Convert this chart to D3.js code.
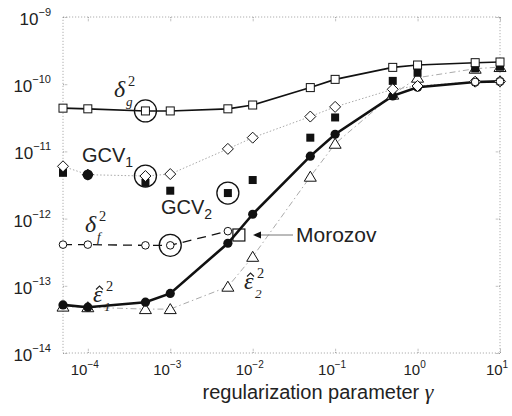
<!DOCTYPE html>
<html><head><meta charset="utf-8">
<script src="https://cdn.jsdelivr.net/npm/d3@7"></script>
<style>body{margin:0;background:#fff}svg{display:block}</style>
</head><body><svg id="c" width="512" height="416"></svg>
<script>
const gammas = [5e-5,1e-4,5e-4,1e-3,5e-3,1e-2,5e-2,1e-1,5e-1,1,5,10];
const deltaG = [4.4e-11,4.3e-11,4.0e-11,4.0e-11,4.3e-11,4.9e-11,8.9e-11,1.18e-10,1.78e-10,1.93e-10,2.09e-10,2.14e-10];
const eps1   = [5.2e-14,4.8e-14,5.7e-14,7.7e-14,4.3e-13,1.16e-12,8.5e-12,1.8e-11,6.7e-11,9.0e-11,1.08e-10,1.1e-10];
const deltaF = [4.1e-13,4.1e-13,4.0e-13,4.0e-13,6.5e-13,null,null,null,null,null,1.08e-10,1.1e-10];
const gcv1   = [6.0e-12,4.5e-12,4.3e-12,4.6e-12,1.09e-11,1.6e-11,3.3e-11,4.6e-11,8.4e-11,9.4e-11,1.09e-10,1.1e-10];
const gcv2   = [4.8e-12,null,3.4e-12,2.6e-12,2.4e-12,3.75e-12,1.6e-11,3.2e-11,1.12e-10,1.48e-10,1.72e-10,1.82e-10];
const eps2   = [4.9e-14,4.8e-14,4.5e-14,4.5e-14,9.7e-14,2.7e-13,4.2e-12,1.3e-11,7e-11,1.25e-10,1.7e-10,1.8e-10];
const gcv1Filled = [[1e-4,4.5e-12]];
const rings = [[5e-4,4.0e-11],[5e-4,4.3e-12],[5e-3,2.4e-12],[1e-3,4.0e-13]];
const morozov = [6.8e-3,5.7e-13];
const xTicks = [1e-4,1e-3,1e-2,1e-1,1,10];
const xTickExp = ["−4","−3","−2","−1","0","1"];
const yTicks = [1e-14,1e-13,1e-12,1e-11,1e-10,1e-9];
const yTickExp = ["−14","−13","−12","−11","−10","−9"];

const svg = d3.select("#c");
const L=63,R=500,T=17,B=353;
const x = d3.scaleLog().domain([5e-5,10]).range([L,R]);
const y = d3.scaleLog().domain([1e-14,1e-9]).range([B,T]);
const sans = "'Liberation Sans', Arial, sans-serif";
const serif = "'Liberation Serif', 'DejaVu Serif', serif";

// frame
svg.append("rect").attr("x",L).attr("y",T).attr("width",R-L).attr("height",B-T)
  .attr("fill","none").attr("stroke","#999").attr("stroke-width",0.8).attr("stroke-dasharray","1.2,1.8");
const axStyle = g=>{g.select(".domain").remove();g.selectAll("line").attr("stroke","#999").attr("stroke-dasharray","1.2,1.2");};
svg.append("g").attr("transform",`translate(0,${B})`).call(d3.axisBottom(x).tickValues(xTicks).tickSize(-5).tickFormat("")).call(axStyle);
svg.append("g").attr("transform",`translate(0,${T})`).call(d3.axisTop(x).tickValues(xTicks).tickSize(-5).tickFormat("")).call(axStyle);
svg.append("g").attr("transform",`translate(${L},0)`).call(d3.axisLeft(y).tickValues(yTicks).tickSize(-5).tickFormat("")).call(axStyle);
svg.append("g").attr("transform",`translate(${R},0)`).call(d3.axisRight(y).tickValues(yTicks).tickSize(-5).tickFormat("")).call(axStyle);

// tick labels
xTicks.forEach((v,i)=>{
  const t = svg.append("text").attr("x",x(v)-3).attr("y",B+22).attr("text-anchor","middle")
    .attr("font-family",sans).attr("font-size",15).attr("fill","#222");
  t.append("tspan").text("10");
  t.append("tspan").attr("dy",-7).attr("font-size",10).text(xTickExp[i]);
});
yTicks.forEach((v,i)=>{
  const t = svg.append("text").attr("x",51).attr("y",y(v)+8).attr("text-anchor","end")
    .attr("font-family",sans).attr("font-size",17).attr("fill","#222");
  t.append("tspan").text("10");
  t.append("tspan").attr("dy",-9).attr("font-size",11).text(yTickExp[i]);
});
const xt = svg.append("text").attr("x",318).attr("y",399).attr("text-anchor","middle")
  .attr("font-family",sans).attr("font-size",20).attr("fill","#222");
xt.append("tspan").text("regularization parameter ");
xt.append("tspan").attr("font-family",serif).attr("font-style","italic").attr("font-size",22).text("γ");

const pts = arr => gammas.map((g,i)=>[g,arr[i]]);
const line = d3.line().defined(d=>d[1]!=null).x(d=>x(d[0])).y(d=>y(d[1]));
const valid = arr => pts(arr).filter(d=>d[1]!=null);

svg.append("path").attr("d",line(pts(gcv1))).attr("fill","none").attr("stroke","#aaa").attr("stroke-width",1).attr("stroke-dasharray","1.5,2");
svg.append("path").attr("d",line(pts(eps2))).attr("fill","none").attr("stroke","#aaa").attr("stroke-width",1).attr("stroke-dasharray","6,3,1.5,3");
svg.append("path").attr("d",line(pts(deltaG))).attr("fill","none").attr("stroke","#111").attr("stroke-width",1.6);
svg.append("path").attr("d",line(pts(eps1))).attr("fill","none").attr("stroke","#111").attr("stroke-width",2.6);
svg.append("path").attr("d",line(pts(deltaF))).attr("fill","none").attr("stroke","#111").attr("stroke-width",1.3).attr("stroke-dasharray","9,6");

svg.selectAll(".tri").data(valid(eps2)).join("path")
  .attr("d",d=>{const cx=x(d[0]),cy=y(d[1]);return `M${cx},${cy-5.5}L${cx+6},${cy+4.5}L${cx-6},${cy+4.5}Z`;})
  .attr("fill","#fff").attr("stroke","#111").attr("stroke-width",1);
svg.selectAll(".fsq").data(valid(gcv2)).join("rect")
  .attr("x",d=>x(d[0])-4).attr("y",d=>y(d[1])-4).attr("width",8).attr("height",8).attr("fill","#111");
svg.selectAll(".fc").data(valid(eps1)).join("circle")
  .attr("cx",d=>x(d[0])).attr("cy",d=>y(d[1])).attr("r",4.6).attr("fill","#111");
svg.selectAll(".dia").data(valid(gcv1)).join("path")
  .attr("d",d=>{const cx=x(d[0]),cy=y(d[1]);return `M${cx},${cy-5.5}L${cx+5.5},${cy}L${cx},${cy+5.5}L${cx-5.5},${cy}Z`;})
  .attr("fill","#fff").attr("stroke","#111").attr("stroke-width",1);
svg.selectAll(".gf").data(gcv1Filled).join("circle")
  .attr("cx",d=>x(d[0])).attr("cy",d=>y(d[1])).attr("r",5.2).attr("fill","#111");
svg.selectAll(".oc").data(valid(deltaF)).join("circle")
  .attr("cx",d=>x(d[0])).attr("cy",d=>y(d[1])).attr("r",3.8).attr("fill","#fff").attr("stroke","#111").attr("stroke-width",1);
svg.selectAll(".osq").data(valid(deltaG)).join("rect")
  .attr("x",d=>x(d[0])-4).attr("y",d=>y(d[1])-4).attr("width",8).attr("height",8)
  .attr("fill","#fff").attr("stroke","#111").attr("stroke-width",1);
svg.selectAll(".ring").data(rings).join("circle")
  .attr("cx",d=>x(d[0])).attr("cy",d=>y(d[1])).attr("r",11).attr("fill","none").attr("stroke","#111").attr("stroke-width",1.3);
svg.append("rect").attr("x",x(morozov[0])-6).attr("y",y(morozov[1])-6).attr("width",12).attr("height",12)
  .attr("fill","none").attr("stroke","#111").attr("stroke-width",1.2);
svg.append("line").attr("x1",293).attr("y1",y(morozov[1])).attr("x2",258).attr("y2",y(morozov[1])).attr("stroke","#777").attr("stroke-width",1);
svg.append("path").attr("d",`M${253},${y(morozov[1])}l8,-3.5l0,7Z`).attr("fill","#111");
svg.append("text").attr("x",296).attr("y",242).attr("font-family",sans).attr("font-size",21).attr("fill","#222").text("Morozov");

function mathLabel(xp, yp, base, sub, sup, opts={}){
  const size = opts.size||24;
  const g = svg.append("g");
  g.append("text").attr("x",xp).attr("y",yp).attr("font-family",serif).attr("font-style","italic")
    .attr("font-size",size).attr("fill","#222").text(base);
  const w = opts.w||13;
  if(sup) g.append("text").attr("x",xp+w+1).attr("y",yp-size*0.45).attr("font-family",serif).attr("font-size",size*0.6).attr("fill","#222").text(sup);
  if(sub) g.append("text").attr("x",xp+w-1).attr("y",yp+size*0.38).attr("font-family",serif).attr("font-style","italic").attr("font-size",size*0.55).attr("fill","#222").text(sub);
  if(opts.hat){
    const hx = xp+6.5, hy = yp-15;
    g.append("path").attr("d",`M${hx-3.5},${hy+2.5}L${hx},${hy-1}L${hx+3.5},${hy+2.5}`)
      .attr("fill","none").attr("stroke","#222").attr("stroke-width",1.1);
  }
}
mathLabel(114,97,"δ","g","2");
mathLabel(85,232,"δ","f","2");
mathLabel(93,302,"ε","1","2",{hat:true,w:12});
mathLabel(244,289,"ε","2","2",{hat:true,w:12});
function gcvLabel(xp,yp,sub){
  const t = svg.append("text").attr("x",xp).attr("y",yp).attr("font-family",sans).attr("font-size",20).attr("fill","#222");
  t.append("tspan").text("GCV");
  t.append("tspan").attr("dy",5).attr("font-size",14).text(sub);
}
gcvLabel(82,162,"1");
gcvLabel(161,214,"2");
</script></body></html>
